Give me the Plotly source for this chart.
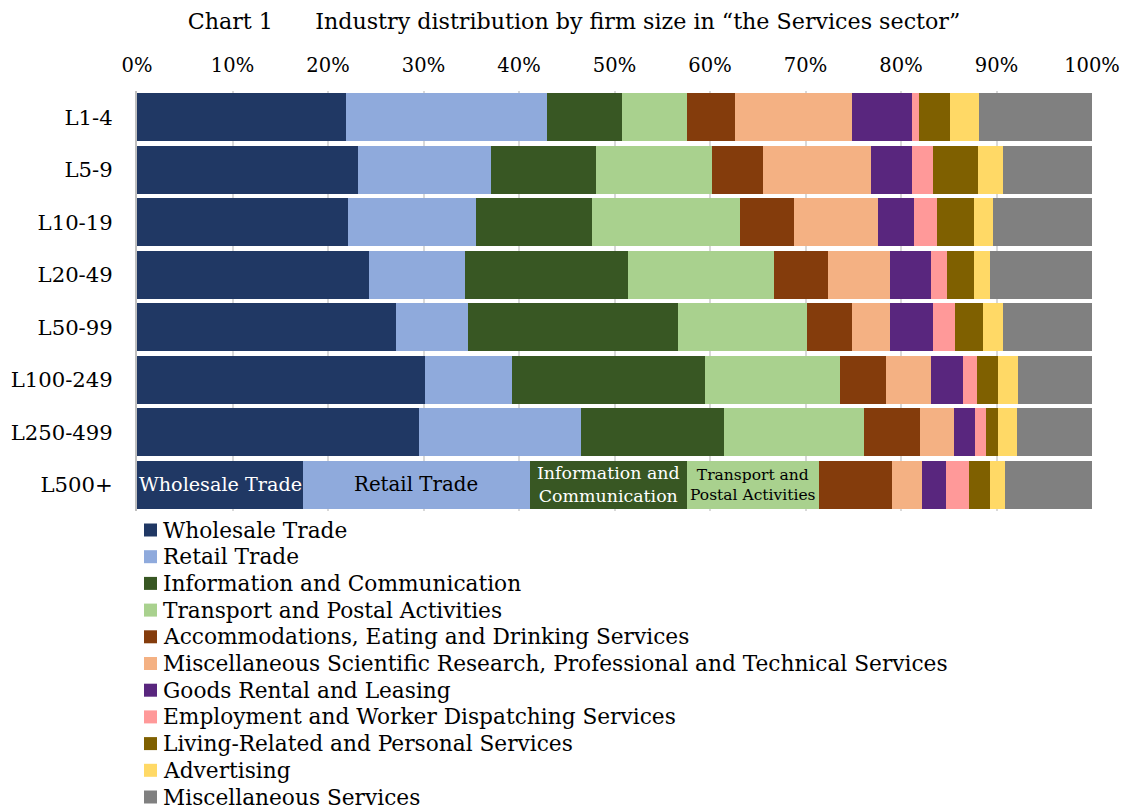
import plotly.graph_objects as go

# Firm size classes (number of employees)
sizes = ["L1-4", "L5-9", "L10-19", "L20-49", "L50-99", "L100-249", "L250-499", "L500+"]

# Share of firms in each industry by size class (%)
wholesale = [21.9, 23.1, 22.1, 24.3, 27.1, 30.2, 29.5, 17.4]
retail = [21.0, 14.0, 13.4, 10.0, 7.6, 9.1, 17.0, 23.7]
information = [7.9, 11.0, 12.1, 17.1, 22.0, 20.2, 15.0, 16.5]
transport = [6.8, 12.1, 15.5, 15.3, 13.5, 14.1, 14.6, 13.8]
accommodation = [5.0, 5.3, 5.7, 5.7, 4.7, 4.8, 5.9, 7.7]
scientific = [12.3, 11.4, 8.8, 6.4, 3.9, 4.7, 3.6, 3.1]
rental = [6.2, 4.2, 3.8, 4.3, 4.6, 3.4, 2.1, 2.5]
employment = [0.8, 2.3, 2.4, 1.7, 2.3, 1.5, 1.2, 2.4]
living = [3.2, 4.7, 3.8, 2.8, 2.9, 2.2, 1.3, 2.2]
advertising = [3.1, 2.6, 2.0, 1.7, 2.1, 2.1, 1.9, 1.6]
misc_services = [11.8, 9.3, 10.4, 10.7, 9.3, 7.7, 7.9, 9.1]

industries = [
    "Wholesale Trade",
    "Retail Trade",
    "Information and Communication",
    "Transport and Postal Activities",
    "Accommodations, Eating and Drinking Services",
    "Miscellaneous Scientific Research, Professional and Technical Services",
    "Goods Rental and Leasing",
    "Employment and Worker Dispatching Services",
    "Living-Related and Personal Services",
    "Advertising",
    "Miscellaneous Services",
]
series = [wholesale, retail, information, transport, accommodation, scientific,
          rental, employment, living, advertising, misc_services]
colors = ["#203864", "#8FAADC", "#385723", "#A9D18E", "#843C0C", "#F4B183",
          "#59267E", "#FF9999", "#7F6000", "#FFD966", "#808080"]

# In-bar labels for the largest size class
bar_labels = ["Wholesale Trade", "Retail Trade", "Information and<br>Communication",
              "Transport and<br>Postal Activities"]
bar_label_colors = ["white", "black", "white", "black"]
bar_label_sizes = [19.2, 19.8, 17.4, 15.5]

FONT = "DejaVu Serif"

# Page geometry (px)
W, H = 1127, 809
ML, MR, MT, MB = 137, 35, 91, 298
PW, PH = W - ML - MR, H - MT - MB


def px_to_paper(px, py):
    return (px - ML) / PW, (H - MB - py) / PH


fig = go.Figure()
for name, vals, col in zip(industries, series, colors):
    fig.add_trace(go.Bar(
        y=sizes, x=vals, name=name, orientation="h",
        marker=dict(color=col, line=dict(width=0)),
        hoverinfo="x+name", showlegend=False,
    ))

# Centre each label inside its segment of the L500+ bar
last = len(sizes) - 1
start = 0.0
for i, label in enumerate(bar_labels):
    width = series[i][last]
    fig.add_annotation(
        x=start + width / 2, y=sizes[last], xref="x", yref="y",
        text=label, showarrow=False,
        font=dict(family=FONT, size=bar_label_sizes[i], color=bar_label_colors[i]),
        align="center",
    )
    start += width

# Legend: one colour swatch and name per industry, stacked below the plot
LEG_X, LEG_Y0, LEG_STEP, SW = 144, 530, 26.7, 13
for i, (name, col) in enumerate(zip(industries, colors)):
    cy = LEG_Y0 + i * LEG_STEP
    x0, y0 = px_to_paper(LEG_X, cy + SW / 2)
    x1, y1 = px_to_paper(LEG_X + SW, cy - SW / 2)
    fig.add_shape(type="rect", xref="paper", yref="paper",
                  x0=x0, y0=y0, x1=x1, y1=y1,
                  fillcolor=col, line=dict(width=0))
    tx, ty = px_to_paper(LEG_X + SW + 4, cy)
    fig.add_annotation(
        x=tx, y=ty, xref="paper", yref="paper", xanchor="left", yanchor="middle",
        text=name, showarrow=False,
        font=dict(family=FONT, size=21.7, color="black"),
    )

fig.update_layout(
    barmode="stack",
    bargap=0.09,
    width=W, height=H,
    margin=dict(l=ML, r=MR, t=MT, b=MB, autoexpand=False),
    paper_bgcolor="white", plot_bgcolor="white",
    font=dict(family=FONT, size=20, color="black"),
    title=dict(
        text="Chart 1\u00a0\u00a0\u00a0\u00a0\u00a0\u00a0Industry distribution by firm size in \u201cthe Services sector\u201d",
        x=574 / W, xref="container", xanchor="center",
        y=1 - 21 / H, yref="container", yanchor="middle",
        font=dict(family=FONT, size=22.2, color="black"),
    ),
    xaxis=dict(
        side="top", range=[0, 100], dtick=10, ticksuffix="%",
        showgrid=True, gridcolor="#D9D9D9", gridwidth=2,
        zeroline=False, showline=False, ticks="",
        ticklabelstandoff=14,
        tickfont=dict(family=FONT, size=19.5),
        fixedrange=True,
    ),
    yaxis=dict(
        autorange="reversed", showline=True, linecolor="#BFBFBF", linewidth=2,
        ticks="", ticklabelstandoff=18,
        tickfont=dict(family=FONT, size=21.2),
        fixedrange=True,
    ),
    showlegend=False,
)

fig.write_html("out.html")
